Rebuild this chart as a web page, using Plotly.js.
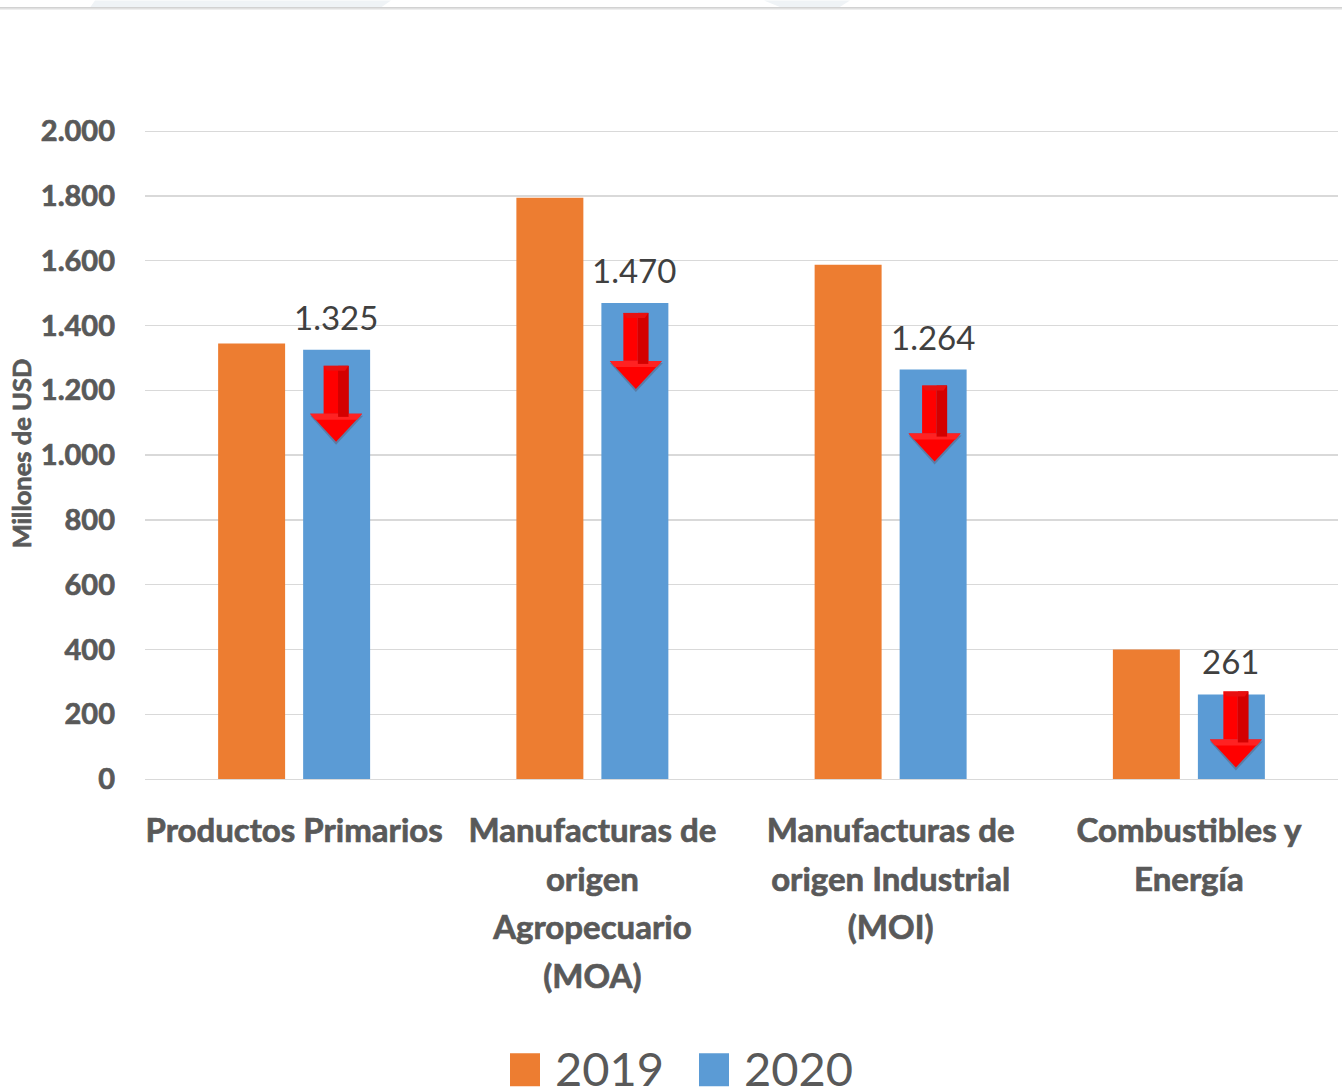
<!DOCTYPE html>
<html><head><meta charset="utf-8">
<script src="https://cdn.plot.ly/plotly-3.0.1.min.js"></script>
<style>html,body{margin:0;padding:0;background:#fff}
.xtick text,.ytick text,.ytitle{stroke:#595959;stroke-width:.7px}
</style></head>
<body><div id="chart" style="width:1342px;height:1089px"></div>
<script>
const categories = ["Productos Primarios","Manufacturas de<br>origen<br>Agropecuario<br>(MOA)","Manufacturas de<br>origen Industrial<br>(MOI)","Combustibles y<br>Energía"];
const values2019 = [1345,1795,1588,400];
const values2020 = [1325,1470,1264,261];
const labels2020 = ["1.325","1.470","1.264","261"];
const arrowOffsets = [16,10,16,-3];
const arrowNudge = [0,1.5,2,5];
const yTicks = [0,200,400,600,800,1000,1200,1400,1600,1800,2000];
const yTickText = ["0","200","400","600","800","1.000","1.200","1.400","1.600","1.800","2.000"];
const ORANGE="#ED7D31", BLUE="#5B9BD5";
const font="Lato, 'Open Sans', sans-serif";
const W=1342,H=1089;
const L=145,R=1338,T=127.76,B=779.5;
const barShift=0.1407;
const px=x=>(x-L)/(R-L), py=y=>(B-y)/(B-T);

function arrowShapes(i){
  const off=arrowOffsets[i], d=arrowNudge[i];
  const mk=(path,fill,op)=>({type:'path',layer:'above',xref:'x',yref:'y',xsizemode:'pixel',ysizemode:'pixel',
    xanchor:i+barShift,yanchor:values2020[i],path,fillcolor:fill,opacity:op===undefined?1:op,line:{width:0}});
  const t=-off, neck=t-48, tip=t-76;
  const slab=(a,b,c,bot)=>mk(`M${d+a},${t} L${d+b},${t} L${d+b},${bot} L${d+a},${bot} Z`,c);
  return [
    mk(`M${d-26},${neck-2} L${d+27},${neck-2} L${d},${tip-3} Z`,'#5A3030',0.28),
    slab(-12.5,2,'#FF0000',neck),
    slab(2,5,'#EC0000',neck),
    slab(5,8,'#D80000',neck),
    slab(8,12.5,'#BE0000',neck),
    mk(`M${d-26},${neck} L${d+26},${neck} L${d},${tip} Z`,'#FF0000'),
    mk(`M${d-26},${neck} L${d+26},${neck} L${d+21},${neck-6} L${d-21},${neck-6} Z`,'#FF2222'),
    slab(2,12.5,'#D40000',neck-3),
    mk(`M${d-12.5},${t} L${d+12.5},${t} L${d+9},${t-5} L${d-9},${t-5} Z`,'#E81010')
  ];
}
function pp(a){return 'M'+a.map(p=>px(p[0])+','+py(p[1])).join(' L')+' Z';}
const legendShapes=[
 {type:'rect',xref:'paper',yref:'paper',x0:px(510),x1:px(540),y0:py(1087),y1:py(1054),fillcolor:ORANGE,line:{width:0}},
 {type:'rect',xref:'paper',yref:'paper',x0:px(699),x1:px(729),y0:py(1087),y1:py(1054),fillcolor:BLUE,line:{width:0}}
];
const topShapes=[
 {type:'path',xref:'paper',yref:'paper',path:pp([[95,0],[391,0],[381,7],[90,7]]),fillcolor:'#EFF3F6',line:{width:0}},
 {type:'path',xref:'paper',yref:'paper',path:pp([[764,0],[850,0],[839,7],[781,7]]),fillcolor:'#EFF3F6',line:{width:0}},
 {type:'line',xref:'paper',yref:'paper',x0:px(0),x1:px(1342),y0:py(8.5),y1:py(8.5),line:{color:'#EEEEEE',width:2}},
 {type:'line',xref:'paper',yref:'paper',x0:px(0),x1:px(1342),y0:py(7.3),y1:py(7.3),line:{color:'#D2D2D2',width:1.5}}
];
const annotations=values2020.map((v,i)=>({xref:'x',yref:'y',x:i+barShift,y:v,text:labels2020[i],showarrow:false,yanchor:'bottom',yshift:11,
  font:{family:font,size:33,color:'#404040'}}));
annotations.push(
 {xref:'paper',yref:'paper',x:px(553),y:py(1069),xanchor:'left',yanchor:'middle',height:38,text:'2019',showarrow:false,font:{family:font,size:47,color:'#595959'}},
 {xref:'paper',yref:'paper',x:px(742),y:py(1069),xanchor:'left',yanchor:'middle',height:38,text:'2020',showarrow:false,font:{family:font,size:47,color:'#595959'}}
);
Plotly.newPlot('chart',[
 {type:'bar',name:'2019',x:categories,y:values2019,marker:{color:ORANGE}},
 {type:'bar',name:'2020',x:categories,y:values2020,marker:{color:BLUE}}
],{
 width:W,height:H,showlegend:false,paper_bgcolor:'#fff',plot_bgcolor:'#fff',
 margin:{l:L,r:W-R,t:T,b:H-B,pad:0},
 barmode:'group',bargap:0.43,bargroupgap:0.212,
 xaxis:{type:'category',showgrid:false,zeroline:false,showline:true,linecolor:'#D9D9D9',linewidth:1.3,ticks:'',automargin:false,
   tickfont:{family:font,size:33,color:'#595959',weight:700},ticklabelstandoff:22},
 yaxis:{range:[0,2010],tickvals:yTicks,ticktext:yTickText,showgrid:true,gridcolor:'#D9D9D9',gridwidth:1.3,zeroline:false,ticks:'',automargin:false,
   tickfont:{family:font,size:29,color:'#595959',weight:700},ticklabelstandoff:29,
   title:{text:'Millones de USD',standoff:1,font:{family:font,size:25.5,color:'#595959',weight:700}}},
 shapes:[...topShapes,...legendShapes,...[0,1,2,3].flatMap(arrowShapes)],
 annotations
},{displayModeBar:false,staticPlot:true}).then(()=>{
  document.querySelectorAll('.xtick text tspan.line').forEach(t=>{
    const dy=parseFloat(t.getAttribute('dy')||'0');
    t.setAttribute('dy',(dy/1.3*48.6)+'px');
  });
});
</script></body></html>
